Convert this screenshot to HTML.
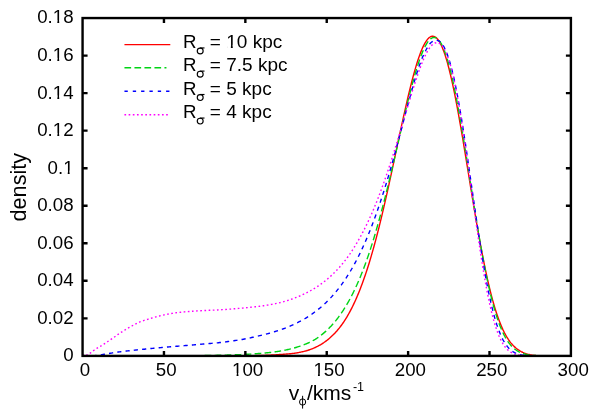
<!DOCTYPE html>
<html><head><meta charset="utf-8"><title>plot</title>
<style>html,body{margin:0;padding:0;background:#fff}svg{display:block;will-change:transform}text{font-family:"Liberation Sans",sans-serif;fill:#000}</style></head>
<body>
<svg width="598" height="419" viewBox="0 0 598 419">
<rect width="598" height="419" fill="#fff"/>
<clipPath id="c"><rect x="82.57" y="18.05" width="488.33" height="337.85"/></clipPath>
<g clip-path="url(#c)" fill="none" stroke-width="1.40" stroke-linejoin="round">
<path d="M237.21 355.82 L238.00 355.81 L238.80 355.81 L239.59 355.80 L240.39 355.80 L241.19 355.79 L241.98 355.78 L242.78 355.78 L243.57 355.77 L244.37 355.76 L245.16 355.75 L245.96 355.74 L246.75 355.74 L247.55 355.73 L248.35 355.72 L249.14 355.70 L249.94 355.69 L250.73 355.68 L251.53 355.67 L252.32 355.66 L253.12 355.64 L253.91 355.63 L254.71 355.61 L255.50 355.60 L256.30 355.58 L257.10 355.56 L257.89 355.55 L258.69 355.53 L259.48 355.51 L260.28 355.49 L261.07 355.46 L261.87 355.44 L262.66 355.42 L263.46 355.39 L264.26 355.37 L265.05 355.34 L265.85 355.31 L266.64 355.28 L267.44 355.25 L268.23 355.21 L269.03 355.18 L269.82 355.14 L270.62 355.10 L271.42 355.06 L272.21 355.02 L273.01 354.98 L273.80 354.93 L274.60 354.88 L275.39 354.83 L276.19 354.78 L276.98 354.73 L277.78 354.67 L278.58 354.61 L279.37 354.55 L280.17 354.50 L280.96 354.45 L281.76 354.39 L282.55 354.34 L283.35 354.28 L284.14 354.23 L284.94 354.17 L285.73 354.12 L286.53 354.05 L287.33 353.99 L288.12 353.92 L288.92 353.85 L289.71 353.78 L290.51 353.70 L291.30 353.61 L292.10 353.52 L292.89 353.42 L293.69 353.32 L294.49 353.21 L295.28 353.09 L296.08 352.97 L296.87 352.84 L297.67 352.71 L298.46 352.57 L299.26 352.42 L300.05 352.27 L300.85 352.11 L301.65 351.94 L302.44 351.76 L303.24 351.58 L304.03 351.39 L304.83 351.18 L305.62 350.97 L306.42 350.75 L307.21 350.51 L308.01 350.27 L308.81 350.01 L309.60 349.74 L310.40 349.46 L311.19 349.16 L311.99 348.85 L312.78 348.53 L313.58 348.20 L314.37 347.85 L315.17 347.49 L315.96 347.12 L316.76 346.73 L317.56 346.33 L318.35 345.91 L319.15 345.48 L319.94 345.03 L320.74 344.57 L321.53 344.08 L322.33 343.59 L323.12 343.07 L323.92 342.54 L324.72 341.98 L325.51 341.41 L326.31 340.82 L327.10 340.21 L327.90 339.58 L328.69 338.93 L329.49 338.26 L330.28 337.56 L331.08 336.85 L331.88 336.11 L332.67 335.35 L333.47 334.57 L334.26 333.76 L335.06 332.92 L335.85 332.06 L336.65 331.18 L337.44 330.26 L338.24 329.32 L339.04 328.34 L339.83 327.34 L340.63 326.30 L341.42 325.23 L342.22 324.13 L343.01 323.00 L343.81 321.83 L344.60 320.62 L345.40 319.38 L346.19 318.10 L346.99 316.79 L347.79 315.43 L348.58 314.03 L349.38 312.60 L350.17 311.13 L350.97 309.62 L351.76 308.06 L352.56 306.47 L353.35 304.84 L354.15 303.16 L354.95 301.45 L355.74 299.68 L356.54 297.88 L357.33 296.03 L358.13 294.14 L358.92 292.20 L359.72 290.22 L360.51 288.19 L361.31 286.11 L362.11 283.99 L362.90 281.82 L363.70 279.60 L364.49 277.33 L365.29 275.02 L366.08 272.65 L366.88 270.23 L367.67 267.76 L368.47 265.24 L369.26 262.67 L370.06 260.05 L370.86 257.38 L371.65 254.66 L372.45 251.90 L373.24 249.08 L374.04 246.22 L374.83 243.30 L375.63 240.34 L376.42 237.34 L377.22 234.29 L378.02 231.19 L378.81 228.05 L379.61 224.86 L380.40 221.64 L381.20 218.37 L381.99 215.06 L382.79 211.71 L383.58 208.33 L384.38 204.91 L385.18 201.45 L385.97 197.95 L386.77 194.41 L387.56 190.85 L388.36 187.25 L389.15 183.62 L389.95 179.97 L390.74 176.30 L391.54 172.60 L392.34 168.89 L393.13 165.17 L393.93 161.43 L394.72 157.69 L395.52 153.94 L396.31 150.19 L397.11 146.45 L397.90 142.71 L398.70 138.98 L399.49 135.26 L400.29 131.56 L401.09 127.88 L401.88 124.22 L402.68 120.58 L403.47 116.96 L404.27 113.37 L405.06 109.82 L405.86 106.30 L406.65 102.82 L407.45 99.39 L408.25 96.00 L409.04 92.67 L409.84 89.39 L410.63 86.17 L411.43 83.02 L412.22 79.93 L413.02 76.91 L413.81 73.97 L414.61 71.11 L415.41 68.33 L416.20 65.64 L417.00 63.05 L417.79 60.55 L418.59 58.16 L419.38 55.87 L420.18 53.69 L420.97 51.62 L421.77 49.67 L422.57 47.84 L423.36 46.14 L424.16 44.56 L424.95 43.10 L425.75 41.78 L426.54 40.60 L427.34 39.55 L428.13 38.64 L428.93 37.87 L429.72 37.25 L430.52 36.77 L431.32 36.44 L432.11 36.26 L432.91 36.23 L433.70 36.35 L434.50 36.62 L435.29 37.05 L436.09 37.63 L436.88 38.36 L437.68 39.26 L438.48 40.30 L439.27 41.51 L440.07 42.88 L440.86 44.40 L441.66 46.08 L442.45 47.91 L443.25 49.91 L444.04 52.05 L444.84 54.35 L445.64 56.80 L446.43 59.40 L447.23 62.14 L448.02 65.03 L448.82 68.05 L449.61 71.21 L450.41 74.49 L451.20 77.90 L452.00 81.43 L452.80 85.09 L453.59 88.85 L454.39 92.73 L455.18 96.71 L455.98 100.80 L456.77 104.98 L457.57 109.25 L458.36 113.61 L459.16 118.05 L459.95 122.57 L460.75 127.15 L461.55 131.80 L462.34 136.50 L463.14 141.24 L463.93 146.03 L464.73 150.85 L465.52 155.70 L466.32 160.57 L467.11 165.46 L467.91 170.36 L468.71 175.26 L469.50 180.16 L470.30 185.06 L471.09 189.94 L471.89 194.80 L472.68 199.63 L473.48 204.44 L474.27 209.21 L475.07 213.94 L475.87 218.62 L476.66 223.25 L477.46 227.83 L478.25 232.35 L479.05 236.80 L479.84 241.19 L480.64 245.51 L481.43 249.75 L482.23 253.91 L483.03 257.99 L483.82 261.99 L484.62 265.90 L485.41 269.72 L486.21 273.46 L487.00 277.09 L487.80 280.64 L488.59 284.09 L489.39 287.44 L490.18 290.70 L490.98 293.85 L491.78 296.91 L492.57 299.87 L493.37 302.73 L494.16 305.49 L494.96 308.16 L495.75 310.72 L496.55 313.19 L497.34 315.56 L498.14 317.84 L498.94 320.03 L499.73 322.12 L500.53 324.13 L501.32 326.04 L502.12 327.87 L502.91 329.61 L503.71 331.27 L504.50 332.85 L505.30 334.35 L506.10 335.78 L506.89 337.13 L507.69 338.41 L508.48 339.62 L509.28 340.76 L510.07 341.84 L510.87 342.86 L511.66 343.82 L512.46 344.72 L513.26 345.57 L514.05 346.37 L514.85 347.12 L515.64 347.83 L516.44 348.48 L517.23 349.10 L518.03 349.67 L518.82 350.21 L519.62 350.71 L520.41 351.17 L521.21 351.61 L522.01 352.00 L522.80 352.38 L523.60 352.72 L524.39 353.05 L525.19 353.35 L525.98 353.63 L526.78 353.89 L527.57 354.13 L528.37 354.35 L529.17 354.55 L529.96 354.73 L530.76 354.89 L531.55 355.03 L532.35 355.15 L533.14 355.27 L533.94 355.37 L534.73 355.46 L535.53 355.54 L536.33 355.61 L537.12 355.68 L537.92 355.73 L538.71 355.78 L539.51 355.83 L540.30 355.87 L541.10 355.90 L541.89 355.90 L542.69 355.90 L543.48 355.90 L544.28 355.90 L545.08 355.90 L545.87 355.90 L546.67 355.90 L547.46 355.90 L548.26 355.90 L549.05 355.90 L549.85 355.90 L550.64 355.90 L551.44 355.90 L552.24 355.90 L553.03 355.90 L553.83 355.90 L554.62 355.90" stroke="#ff0000"/>
<path d="M204.65 355.52 L205.53 355.51 L206.41 355.50 L207.28 355.49 L208.16 355.47 L209.04 355.46 L209.92 355.45 L210.79 355.43 L211.67 355.42 L212.55 355.40 L213.42 355.39 L214.30 355.37 L215.18 355.35 L216.06 355.34 L216.93 355.32 L217.81 355.30 L218.69 355.28 L219.56 355.26 L220.44 355.24 L221.32 355.22 L222.19 355.20 L223.07 355.18 L223.95 355.16 L224.83 355.14 L225.70 355.11 L226.58 355.09 L227.46 355.06 L228.33 355.04 L229.21 355.01 L230.09 354.98 L230.97 354.96 L231.84 354.93 L232.72 354.90 L233.60 354.87 L234.47 354.84 L235.35 354.80 L236.23 354.77 L237.11 354.73 L237.98 354.70 L238.86 354.66 L239.74 354.62 L240.61 354.59 L241.49 354.54 L242.37 354.50 L243.25 354.46 L244.12 354.42 L245.00 354.37 L245.88 354.32 L246.75 354.28 L247.63 354.23 L248.51 354.18 L249.39 354.13 L250.26 354.08 L251.14 354.03 L252.02 353.97 L252.89 353.92 L253.77 353.86 L254.65 353.81 L255.53 353.75 L256.40 353.69 L257.28 353.63 L258.16 353.56 L259.03 353.50 L259.91 353.43 L260.79 353.36 L261.67 353.29 L262.54 353.22 L263.42 353.14 L264.30 353.06 L265.17 352.98 L266.05 352.90 L266.93 352.81 L267.80 352.72 L268.68 352.63 L269.56 352.53 L270.44 352.43 L271.31 352.33 L272.19 352.22 L273.07 352.11 L273.94 352.00 L274.82 351.88 L275.70 351.76 L276.58 351.63 L277.45 351.50 L278.33 351.36 L279.21 351.22 L280.08 351.07 L280.96 350.92 L281.84 350.77 L282.72 350.61 L283.59 350.44 L284.47 350.27 L285.35 350.09 L286.22 349.91 L287.10 349.72 L287.98 349.53 L288.86 349.33 L289.73 349.12 L290.61 348.91 L291.49 348.69 L292.36 348.46 L293.24 348.22 L294.12 347.98 L295.00 347.73 L295.87 347.47 L296.75 347.21 L297.63 346.93 L298.50 346.65 L299.38 346.36 L300.26 346.06 L301.14 345.75 L302.01 345.44 L302.89 345.12 L303.77 344.79 L304.64 344.45 L305.52 344.10 L306.40 343.74 L307.28 343.37 L308.15 342.99 L309.03 342.59 L309.91 342.18 L310.78 341.75 L311.66 341.31 L312.54 340.84 L313.42 340.36 L314.29 339.86 L315.17 339.34 L316.05 338.79 L316.92 338.22 L317.80 337.63 L318.68 337.02 L319.55 336.39 L320.43 335.74 L321.31 335.06 L322.19 334.36 L323.06 333.64 L323.94 332.90 L324.82 332.14 L325.69 331.36 L326.57 330.55 L327.45 329.73 L328.33 328.88 L329.20 328.01 L330.08 327.11 L330.96 326.20 L331.83 325.25 L332.71 324.28 L333.59 323.28 L334.47 322.25 L335.34 321.19 L336.22 320.10 L337.10 318.98 L337.97 317.84 L338.85 316.66 L339.73 315.45 L340.61 314.21 L341.48 312.94 L342.36 311.63 L343.24 310.29 L344.11 308.93 L344.99 307.52 L345.87 306.08 L346.75 304.61 L347.62 303.11 L348.50 301.57 L349.38 299.99 L350.25 298.38 L351.13 296.73 L352.01 295.04 L352.89 293.31 L353.76 291.54 L354.64 289.72 L355.52 287.86 L356.39 285.96 L357.27 284.02 L358.15 282.02 L359.03 279.98 L359.90 277.90 L360.78 275.77 L361.66 273.59 L362.53 271.36 L363.41 269.09 L364.29 266.77 L365.16 264.40 L366.04 261.98 L366.92 259.51 L367.80 256.99 L368.67 254.42 L369.55 251.80 L370.43 249.13 L371.30 246.41 L372.18 243.64 L373.06 240.83 L373.94 237.96 L374.81 235.04 L375.69 232.08 L376.57 229.07 L377.44 226.01 L378.32 222.90 L379.20 219.74 L380.08 216.54 L380.95 213.30 L381.83 210.01 L382.71 206.68 L383.58 203.30 L384.46 199.89 L385.34 196.43 L386.22 192.94 L387.09 189.41 L387.97 185.85 L388.85 182.26 L389.72 178.63 L390.60 174.98 L391.48 171.30 L392.36 167.60 L393.23 163.87 L394.11 160.13 L394.99 156.37 L395.86 152.59 L396.74 148.81 L397.62 145.02 L398.50 141.22 L399.37 137.43 L400.25 133.64 L401.13 129.85 L402.00 126.07 L402.88 122.31 L403.76 118.57 L404.64 114.85 L405.51 111.16 L406.39 107.50 L407.27 103.88 L408.14 100.30 L409.02 96.76 L409.90 93.28 L410.78 89.85 L411.65 86.49 L412.53 83.19 L413.41 79.97 L414.28 76.83 L415.16 73.77 L416.04 70.79 L416.91 67.91 L417.79 65.13 L418.67 62.45 L419.55 59.88 L420.42 57.42 L421.30 55.08 L422.18 52.87 L423.05 50.78 L423.93 48.83 L424.81 47.02 L425.69 45.35 L426.56 43.83 L427.44 42.46 L428.32 41.25 L429.19 40.20 L430.07 39.31 L430.95 38.60 L431.83 38.05 L432.70 37.68 L433.58 37.49 L434.46 37.48 L435.33 37.66 L436.21 38.02 L437.09 38.56 L437.97 39.30 L438.84 40.23 L439.72 41.35 L440.60 42.67 L441.47 44.18 L442.35 45.88 L443.23 47.78 L444.11 49.87 L444.98 52.16 L445.86 54.63 L446.74 57.30 L447.61 60.15 L448.49 63.19 L449.37 66.40 L450.25 69.80 L451.12 73.36 L452.00 77.10 L452.88 81.00 L453.75 85.05 L454.63 89.27 L455.51 93.62 L456.39 98.12 L457.26 102.76 L458.14 107.51 L459.02 112.39 L459.89 117.37 L460.77 122.45 L461.65 127.63 L462.53 132.89 L463.40 138.22 L464.28 143.62 L465.16 149.08 L466.03 154.58 L466.91 160.13 L467.79 165.70 L468.66 171.29 L469.54 176.90 L470.42 182.51 L471.30 188.11 L472.17 193.70 L473.05 199.26 L473.93 204.79 L474.80 210.28 L475.68 215.72 L476.56 221.11 L477.44 226.43 L478.31 231.68 L479.19 236.85 L480.07 241.93 L480.94 246.93 L481.82 251.82 L482.70 256.62 L483.58 261.31 L484.45 265.88 L485.33 270.34 L486.21 274.68 L487.08 278.90 L487.96 282.99 L488.84 286.95 L489.72 290.78 L490.59 294.48 L491.47 298.04 L492.35 301.48 L493.22 304.78 L494.10 307.94 L494.98 310.97 L495.86 313.87 L496.73 316.64 L497.61 319.28 L498.49 321.80 L499.36 324.18 L500.24 326.45 L501.12 328.59 L502.00 330.62 L502.87 332.53 L503.75 334.33 L504.63 336.03 L505.50 337.62 L506.38 339.11 L507.26 340.50 L508.14 341.81 L509.01 343.02 L509.89 344.15 L510.77 345.20 L511.64 346.17 L512.52 347.07 L513.40 347.90 L514.27 348.67 L515.15 349.37 L516.03 350.02 L516.91 350.61 L517.78 351.15 L518.66 351.64 L519.54 352.09 L520.41 352.50 L521.29 352.88 L522.17 353.21 L523.05 353.51 L523.92 353.79 L524.80 354.03 L525.68 354.25 L526.55 354.45 L527.43 354.63 L528.31 354.79 L529.19 354.93 L530.06 355.05 L530.94 355.16 L531.82 355.26 L532.69 355.34 L533.57 355.42 L534.45 355.49 L535.33 355.54 L536.20 355.59 L537.08 355.64 L537.96 355.68 L538.83 355.71 L539.71 355.74 L540.59 355.76 L541.47 355.78 L542.34 355.80 L543.22 355.82 L544.10 355.83 L544.97 355.84 L545.85 355.85 L546.73 355.86 L547.61 355.87 L548.48 355.87 L549.36 355.88 L550.24 355.88 L551.11 355.88 L551.99 355.89 L552.87 355.89 L553.75 355.89 L554.62 355.89" stroke="#00d414" stroke-dasharray="6.67 3.33"/>
<path d="M84.20 355.90 L85.38 355.90 L86.56 355.90 L87.73 355.90 L88.91 355.90 L90.09 355.90 L91.27 355.90 L92.45 355.90 L93.63 355.81 L94.81 355.70 L95.99 355.57 L97.17 355.41 L98.35 355.24 L99.52 355.06 L100.70 354.88 L101.88 354.69 L103.06 354.49 L104.24 354.30 L105.42 354.10 L106.60 353.90 L107.78 353.70 L108.96 353.50 L110.14 353.30 L111.31 353.10 L112.49 352.91 L113.67 352.72 L114.85 352.53 L116.03 352.35 L117.21 352.18 L118.39 352.01 L119.57 351.86 L120.75 351.71 L121.93 351.57 L123.11 351.42 L124.28 351.29 L125.46 351.15 L126.64 351.02 L127.82 350.89 L129.00 350.76 L130.18 350.63 L131.36 350.50 L132.54 350.38 L133.72 350.26 L134.90 350.14 L136.07 350.02 L137.25 349.89 L138.43 349.77 L139.61 349.66 L140.79 349.54 L141.97 349.42 L143.15 349.30 L144.33 349.18 L145.51 349.06 L146.69 348.94 L147.86 348.82 L149.04 348.70 L150.22 348.58 L151.40 348.47 L152.58 348.35 L153.76 348.24 L154.94 348.13 L156.12 348.02 L157.30 347.91 L158.48 347.80 L159.65 347.70 L160.83 347.59 L162.01 347.49 L163.19 347.39 L164.37 347.29 L165.55 347.18 L166.73 347.08 L167.91 346.98 L169.09 346.88 L170.27 346.78 L171.44 346.68 L172.62 346.58 L173.80 346.48 L174.98 346.38 L176.16 346.28 L177.34 346.19 L178.52 346.09 L179.70 346.00 L180.88 345.91 L182.06 345.82 L183.23 345.73 L184.41 345.63 L185.59 345.54 L186.77 345.45 L187.95 345.35 L189.13 345.25 L190.31 345.16 L191.49 345.06 L192.67 344.96 L193.85 344.86 L195.02 344.76 L196.20 344.65 L197.38 344.55 L198.56 344.44 L199.74 344.34 L200.92 344.23 L202.10 344.13 L203.28 344.03 L204.46 343.94 L205.64 343.84 L206.81 343.75 L207.99 343.65 L209.17 343.56 L210.35 343.46 L211.53 343.36 L212.71 343.26 L213.89 343.16 L215.07 343.05 L216.25 342.94 L217.43 342.83 L218.60 342.70 L219.78 342.57 L220.96 342.44 L222.14 342.30 L223.32 342.15 L224.50 342.01 L225.68 341.86 L226.86 341.70 L228.04 341.55 L229.22 341.39 L230.39 341.23 L231.57 341.07 L232.75 340.90 L233.93 340.73 L235.11 340.56 L236.29 340.38 L237.47 340.20 L238.65 340.02 L239.83 339.83 L241.01 339.64 L242.18 339.44 L243.36 339.23 L244.54 339.01 L245.72 338.78 L246.90 338.55 L248.08 338.31 L249.26 338.06 L250.44 337.81 L251.62 337.55 L252.80 337.29 L253.98 337.02 L255.15 336.75 L256.33 336.48 L257.51 336.21 L258.69 335.94 L259.87 335.67 L261.05 335.39 L262.23 335.11 L263.41 334.82 L264.59 334.53 L265.77 334.23 L266.94 333.92 L268.12 333.60 L269.30 333.28 L270.48 332.95 L271.66 332.61 L272.84 332.26 L274.02 331.91 L275.20 331.54 L276.38 331.17 L277.56 330.79 L278.73 330.39 L279.91 329.99 L281.09 329.58 L282.27 329.16 L283.45 328.73 L284.63 328.28 L285.81 327.83 L286.99 327.36 L288.17 326.89 L289.35 326.40 L290.52 325.89 L291.70 325.38 L292.88 324.85 L294.06 324.31 L295.24 323.75 L296.42 323.18 L297.60 322.59 L298.78 321.99 L299.96 321.37 L301.14 320.74 L302.31 320.09 L303.49 319.42 L304.67 318.73 L305.85 318.03 L307.03 317.30 L308.21 316.56 L309.39 315.80 L310.57 315.01 L311.75 314.21 L312.93 313.38 L314.10 312.53 L315.28 311.66 L316.46 310.76 L317.64 309.84 L318.82 308.90 L320.00 307.92 L321.18 306.93 L322.36 305.90 L323.54 304.84 L324.72 303.76 L325.89 302.65 L327.07 301.50 L328.25 300.33 L329.43 299.12 L330.61 297.88 L331.79 296.60 L332.97 295.29 L334.15 293.95 L335.33 292.56 L336.51 291.14 L337.68 289.68 L338.86 288.18 L340.04 286.64 L341.22 285.06 L342.40 283.43 L343.58 281.76 L344.76 280.04 L345.94 278.28 L347.12 276.47 L348.30 274.62 L349.47 272.71 L350.65 270.75 L351.83 268.74 L353.01 266.68 L354.19 264.56 L355.37 262.39 L356.55 260.17 L357.73 257.88 L358.91 255.54 L360.09 253.14 L361.26 250.68 L362.44 248.16 L363.62 245.57 L364.80 242.93 L365.98 240.22 L367.16 237.45 L368.34 234.61 L369.52 231.71 L370.70 228.74 L371.88 225.71 L373.05 222.61 L374.23 219.44 L375.41 216.21 L376.59 212.91 L377.77 209.54 L378.95 206.11 L380.13 202.61 L381.31 199.05 L382.49 195.43 L383.67 191.74 L384.85 187.99 L386.02 184.18 L387.20 180.31 L388.38 176.37 L389.56 172.36 L390.74 168.27 L391.92 164.12 L393.10 159.91 L394.28 155.65 L395.46 151.33 L396.64 146.97 L397.81 142.58 L398.99 138.16 L400.17 133.71 L401.35 129.26 L402.53 124.79 L403.71 120.33 L404.89 115.88 L406.07 111.45 L407.25 107.05 L408.43 102.70 L409.60 98.37 L410.78 94.08 L411.96 89.85 L413.14 85.69 L414.32 81.61 L415.50 77.64 L416.68 73.78 L417.86 70.07 L419.04 66.50 L420.22 63.15 L421.39 60.01 L422.57 57.11 L423.75 54.50 L424.93 52.06 L426.11 49.72 L427.29 47.57 L428.47 45.65 L429.65 44.02 L430.83 42.75 L432.01 41.82 L433.18 41.15 L434.36 40.72 L435.54 40.47 L436.72 40.37 L437.90 40.55 L439.08 41.05 L440.26 41.88 L441.44 43.06 L442.62 44.61 L443.80 46.53 L444.97 48.82 L446.15 51.49 L447.33 54.52 L448.51 57.93 L449.69 61.71 L450.87 65.87 L452.05 70.39 L453.23 75.27 L454.41 80.50 L455.59 86.08 L456.76 92.00 L457.94 98.23 L459.12 104.75 L460.30 111.55 L461.48 118.60 L462.66 125.89 L463.84 133.38 L465.02 141.06 L466.20 148.91 L467.38 156.88 L468.55 164.97 L469.73 173.13 L470.91 181.34 L472.09 189.57 L473.27 197.80 L474.45 205.98 L475.63 214.10 L476.81 222.13 L477.99 230.04 L479.17 237.81 L480.34 245.40 L481.52 252.80 L482.70 259.99 L483.88 266.95 L485.06 273.65 L486.24 280.09 L487.42 286.25 L488.60 292.12 L489.78 297.70 L490.96 302.97 L492.13 307.94 L493.31 312.60 L494.49 316.95 L495.67 321.00 L496.85 324.75 L498.03 328.21 L499.21 331.38 L500.39 334.28 L501.57 336.92 L502.75 339.32 L503.92 341.47 L505.10 343.40 L506.28 345.13 L507.46 346.66 L508.64 348.01 L509.82 349.20 L511.00 350.24 L512.18 351.14 L513.36 351.92 L514.54 352.59 L515.72 353.17 L516.89 353.65 L518.07 354.06 L519.25 354.41 L520.43 354.70 L521.61 354.93 L522.79 355.13 L523.97 355.29 L525.15 355.42 L526.33 355.53 L527.51 355.61 L528.68 355.68 L529.86 355.73 L531.04 355.77 L532.22 355.80 L533.40 355.83 L534.58 355.85 L535.76 355.86 L536.94 355.87 L538.12 355.88 L539.30 355.89 L540.47 355.89 L541.65 355.89 L542.83 355.89 L544.01 355.90 L545.19 355.90 L546.37 355.90 L547.55 355.90 L548.73 355.90 L549.91 355.90 L551.09 355.90 L552.26 355.90 L553.44 355.90 L554.62 355.90" stroke="#0000ff" stroke-dasharray="4.2 4.13"/>
<path d="M82.57 355.90 L83.75 355.04 L84.94 355.79 L86.12 355.51 L87.30 354.81 L88.49 354.15 L89.67 353.47 L90.85 352.71 L92.03 351.83 L93.22 350.89 L94.40 350.01 L95.58 349.18 L96.77 348.41 L97.95 347.68 L99.13 346.98 L100.32 346.31 L101.50 345.63 L102.68 344.90 L103.87 344.14 L105.05 343.35 L106.23 342.55 L107.41 341.75 L108.60 340.95 L109.78 340.18 L110.96 339.43 L112.15 338.64 L113.33 337.82 L114.51 336.96 L115.70 336.10 L116.88 335.23 L118.06 334.39 L119.25 333.57 L120.43 332.79 L121.61 332.04 L122.80 331.29 L123.98 330.55 L125.16 329.82 L126.34 329.11 L127.53 328.41 L128.71 327.73 L129.89 327.07 L131.08 326.41 L132.26 325.75 L133.44 325.09 L134.63 324.45 L135.81 323.83 L136.99 323.24 L138.18 322.69 L139.36 322.18 L140.54 321.71 L141.72 321.26 L142.91 320.84 L144.09 320.43 L145.27 320.05 L146.46 319.67 L147.64 319.31 L148.82 318.95 L150.01 318.60 L151.19 318.25 L152.37 317.90 L153.56 317.56 L154.74 317.22 L155.92 316.89 L157.10 316.57 L158.29 316.26 L159.47 315.96 L160.65 315.68 L161.84 315.41 L163.02 315.14 L164.20 314.88 L165.39 314.62 L166.57 314.38 L167.75 314.14 L168.94 313.92 L170.12 313.71 L171.30 313.51 L172.48 313.32 L173.67 313.14 L174.85 312.96 L176.03 312.79 L177.22 312.63 L178.40 312.48 L179.58 312.34 L180.77 312.22 L181.95 312.10 L183.13 311.99 L184.32 311.89 L185.50 311.79 L186.68 311.70 L187.86 311.61 L189.05 311.52 L190.23 311.43 L191.41 311.33 L192.60 311.23 L193.78 311.14 L194.96 311.04 L196.15 310.95 L197.33 310.86 L198.51 310.79 L199.70 310.73 L200.88 310.68 L202.06 310.62 L203.25 310.57 L204.43 310.52 L205.61 310.47 L206.79 310.42 L207.98 310.37 L209.16 310.32 L210.34 310.27 L211.53 310.21 L212.71 310.16 L213.89 310.11 L215.08 310.05 L216.26 309.99 L217.44 309.93 L218.63 309.87 L219.81 309.80 L220.99 309.73 L222.17 309.66 L223.36 309.59 L224.54 309.51 L225.72 309.43 L226.91 309.35 L228.09 309.27 L229.27 309.18 L230.46 309.09 L231.64 309.00 L232.82 308.91 L234.01 308.81 L235.19 308.71 L236.37 308.61 L237.55 308.51 L238.74 308.40 L239.92 308.30 L241.10 308.19 L242.29 308.08 L243.47 307.97 L244.65 307.86 L245.84 307.75 L247.02 307.64 L248.20 307.53 L249.39 307.41 L250.57 307.29 L251.75 307.17 L252.93 307.05 L254.12 306.92 L255.30 306.79 L256.48 306.65 L257.67 306.51 L258.85 306.36 L260.03 306.20 L261.22 306.04 L262.40 305.87 L263.58 305.70 L264.77 305.53 L265.95 305.35 L267.13 305.16 L268.31 304.97 L269.50 304.77 L270.68 304.57 L271.86 304.35 L273.05 304.13 L274.23 303.90 L275.41 303.66 L276.60 303.41 L277.78 303.14 L278.96 302.87 L280.15 302.58 L281.33 302.28 L282.51 301.97 L283.70 301.64 L284.88 301.31 L286.06 300.96 L287.24 300.60 L288.43 300.22 L289.61 299.84 L290.79 299.44 L291.98 299.03 L293.16 298.60 L294.34 298.16 L295.53 297.71 L296.71 297.25 L297.89 296.77 L299.08 296.27 L300.26 295.77 L301.44 295.24 L302.62 294.71 L303.81 294.16 L304.99 293.59 L306.17 293.01 L307.36 292.41 L308.54 291.79 L309.72 291.15 L310.91 290.50 L312.09 289.83 L313.27 289.13 L314.46 288.42 L315.64 287.68 L316.82 286.92 L318.00 286.14 L319.19 285.34 L320.37 284.51 L321.55 283.66 L322.74 282.78 L323.92 281.88 L325.10 280.95 L326.29 279.99 L327.47 279.01 L328.65 278.00 L329.84 276.96 L331.02 275.89 L332.20 274.78 L333.38 273.64 L334.57 272.47 L335.75 271.27 L336.93 270.03 L338.12 268.75 L339.30 267.45 L340.48 266.11 L341.67 264.73 L342.85 263.32 L344.03 261.86 L345.22 260.36 L346.40 258.81 L347.58 257.21 L348.76 255.55 L349.95 253.85 L351.13 252.08 L352.31 250.27 L353.50 248.41 L354.68 246.51 L355.86 244.57 L357.05 242.59 L358.23 240.56 L359.41 238.48 L360.60 236.35 L361.78 234.16 L362.96 231.93 L364.15 229.64 L365.33 227.29 L366.51 224.89 L367.69 222.43 L368.88 219.91 L370.06 217.32 L371.24 214.68 L372.43 211.97 L373.61 209.19 L374.79 206.35 L375.98 203.44 L377.16 200.48 L378.34 197.45 L379.53 194.36 L380.71 191.21 L381.89 188.00 L383.07 184.73 L384.26 181.40 L385.44 178.02 L386.62 174.58 L387.81 171.08 L388.99 167.53 L390.17 163.93 L391.36 160.28 L392.54 156.58 L393.72 152.84 L394.91 149.05 L396.09 145.23 L397.27 141.37 L398.45 137.47 L399.64 133.56 L400.82 129.61 L402.00 125.66 L403.19 121.68 L404.37 117.71 L405.55 113.73 L406.74 109.76 L407.92 105.80 L409.10 101.86 L410.29 97.96 L411.47 94.09 L412.65 90.27 L413.83 86.50 L415.02 82.81 L416.20 79.19 L417.38 75.66 L418.57 72.23 L419.75 68.91 L420.93 65.72 L422.12 62.67 L423.30 59.80 L424.48 57.12 L425.67 54.64 L426.85 52.36 L428.03 50.30 L429.21 48.47 L430.40 46.86 L431.58 45.51 L432.76 44.40 L433.95 43.57 L435.13 43.00 L436.31 42.72 L437.50 42.72 L438.68 43.03 L439.86 43.64 L441.05 44.59 L442.23 45.88 L443.41 47.53 L444.60 49.55 L445.78 51.94 L446.96 54.72 L448.14 57.90 L449.33 61.48 L450.51 65.46 L451.69 69.85 L452.88 74.65 L454.06 79.84 L455.24 85.41 L456.43 91.34 L457.61 97.61 L458.79 104.20 L459.98 111.10 L461.16 118.29 L462.34 125.75 L463.52 133.45 L464.71 141.36 L465.89 149.46 L467.07 157.72 L468.26 166.11 L469.44 174.60 L470.62 183.15 L471.81 191.73 L472.99 200.31 L474.17 208.85 L475.36 217.33 L476.54 225.70 L477.72 233.94 L478.90 242.02 L480.09 249.91 L481.27 257.58 L482.45 265.01 L483.64 272.17 L484.82 279.04 L486.00 285.62 L487.19 291.88 L488.37 297.81 L489.55 303.40 L490.74 308.66 L491.92 313.56 L493.10 318.13 L494.28 322.35 L495.47 326.25 L496.65 329.81 L497.83 333.06 L499.02 336.00 L500.20 338.65 L501.38 341.03 L502.57 343.15 L503.75 345.03 L504.93 346.69 L506.12 348.14 L507.30 349.40 L508.48 350.49 L509.66 351.42 L510.85 352.22 L512.03 352.89 L513.21 353.46 L514.40 353.94 L515.58 354.33 L516.76 354.66 L517.95 354.92 L519.13 355.13 L520.31 355.31 L521.50 355.44 L522.68 355.55 L523.86 355.64 L525.05 355.70 L526.23 355.75 L527.41 355.79 L528.59 355.82 L529.78 355.84 L530.96 355.86 L532.14 355.87 L533.33 355.88 L534.51 355.89 L535.69 355.89 L536.88 355.89 L538.06 355.90 L539.24 355.90 L540.43 355.90 L541.61 355.90 L542.79 355.90 L543.97 355.90 L545.16 355.90 L546.34 355.90 L547.52 355.90 L548.71 355.90 L549.89 355.90 L551.07 355.90 L552.26 355.90 L553.44 355.90 L554.62 355.90" stroke="#ff00ff" stroke-dasharray="1.67 2.5"/>
</g>
<g fill="none" stroke-width="1.40">
<path d="M124.45 44.65 H170.30" stroke="#ff0000"/>
<path d="M124.45 67.80 H170.30" stroke="#00d414" stroke-dasharray="6.67 3.33 6.67 3.33 6.67 3.33 6.67 3.33 2 20"/>
<path d="M124.45 91.20 H170.30" stroke="#0000ff" stroke-dasharray="3.33 5"/>
<path d="M124.45 114.75 H170.30" stroke="#ff00ff" stroke-dasharray="1.67 2.5"/>
</g>
<g stroke="#000" stroke-width="2.40" fill="none">
<rect x="82.57" y="18.05" width="488.33" height="337.85"/>
</g><g stroke="#000" stroke-width="2.4" fill="none">
<path d="M163.96 355.90V350.90 M163.96 18.05V23.05 M245.35 355.90V350.90 M245.35 18.05V23.05 M326.74 355.90V350.90 M326.74 18.05V23.05 M408.12 355.90V350.90 M408.12 18.05V23.05 M489.51 355.90V350.90 M489.51 18.05V23.05 M82.57 318.36H87.57 M570.90 318.36H565.90 M82.57 280.82H87.57 M570.90 280.82H565.90 M82.57 243.28H87.57 M570.90 243.28H565.90 M82.57 205.74H87.57 M570.90 205.74H565.90 M82.57 168.21H87.57 M570.90 168.21H565.90 M82.57 130.67H87.57 M570.90 130.67H565.90 M82.57 93.13H87.57 M570.90 93.13H565.90 M82.57 55.59H87.57 M570.90 55.59H565.90 "/>
</g>
<g font-size="18.70">
<text x="84.87" y="376.2" text-anchor="middle">0</text>
<text x="166.26" y="376.2" text-anchor="middle">50</text>
<text x="247.65" y="376.2" text-anchor="middle">100</text>
<text x="329.04" y="376.2" text-anchor="middle">150</text>
<text x="410.42" y="376.2" text-anchor="middle">200</text>
<text x="491.81" y="376.2" text-anchor="middle">250</text>
<text x="573.20" y="376.2" text-anchor="middle">300</text>
<text x="73.6" y="361.30" text-anchor="end">0</text>
<text x="73.6" y="323.76" text-anchor="end">0.02</text>
<text x="73.6" y="286.22" text-anchor="end">0.04</text>
<text x="73.6" y="248.68" text-anchor="end">0.06</text>
<text x="73.6" y="211.14" text-anchor="end">0.08</text>
<text x="73.6" y="173.61" text-anchor="end">0.1</text>
<text x="73.6" y="136.07" text-anchor="end">0.12</text>
<text x="73.6" y="98.53" text-anchor="end">0.14</text>
<text x="73.6" y="60.99" text-anchor="end">0.16</text>
<text x="73.6" y="23.45" text-anchor="end">0.18</text>
<text x="182.9" y="48.05">R<tspan x="204.6" font-size="19"> = 10 kpc</tspan></text>
<g stroke="#000" fill="none" stroke-width="1.15"><ellipse cx="200.2" cy="51.00" rx="2.95" ry="2.9"/><path d="M199.8 47.95H204.5"/></g>
<text x="182.9" y="71.20">R<tspan x="204.6" font-size="19"> = 7.5 kpc</tspan></text>
<g stroke="#000" fill="none" stroke-width="1.15"><ellipse cx="200.2" cy="74.15" rx="2.95" ry="2.9"/><path d="M199.8 71.10H204.5"/></g>
<text x="182.9" y="94.60">R<tspan x="204.6" font-size="19"> = 5 kpc</tspan></text>
<g stroke="#000" fill="none" stroke-width="1.15"><ellipse cx="200.2" cy="97.55" rx="2.95" ry="2.9"/><path d="M199.8 94.50H204.5"/></g>
<text x="182.9" y="118.15">R<tspan x="204.6" font-size="19"> = 4 kpc</tspan></text>
<g stroke="#000" fill="none" stroke-width="1.15"><ellipse cx="200.2" cy="121.10" rx="2.95" ry="2.9"/><path d="M199.8 118.05H204.5"/></g>
</g>
<rect x="64.14" y="170.43" width="3.60" height="4.08" fill="#fff"/><rect x="69.61" y="170.43" width="4.07" height="4.08" fill="#fff"/><rect x="53.74" y="132.89" width="3.60" height="4.08" fill="#fff"/><rect x="59.21" y="132.89" width="4.07" height="4.08" fill="#fff"/><rect x="53.74" y="95.35" width="3.60" height="4.08" fill="#fff"/><rect x="59.21" y="95.35" width="4.07" height="4.08" fill="#fff"/><rect x="53.74" y="57.81" width="3.60" height="4.08" fill="#fff"/><rect x="59.21" y="57.81" width="4.07" height="4.08" fill="#fff"/><rect x="53.74" y="20.27" width="3.60" height="4.08" fill="#fff"/><rect x="59.21" y="20.27" width="4.07" height="4.08" fill="#fff"/><rect x="232.99" y="373.02" width="3.60" height="4.08" fill="#fff"/><rect x="238.45" y="373.02" width="4.07" height="4.08" fill="#fff"/><rect x="314.37" y="373.02" width="3.60" height="4.08" fill="#fff"/><rect x="319.84" y="373.02" width="4.07" height="4.08" fill="#fff"/><rect x="227.21" y="44.82" width="3.66" height="4.13" fill="#fff"/><rect x="232.76" y="44.82" width="4.14" height="4.13" fill="#fff"/><rect x="357.69" y="388.68" width="2.36" height="3.02" fill="#fff"/><rect x="361.38" y="388.68" width="2.68" height="3.02" fill="#fff"/>
<g font-size="21">
<text x="288.7" y="399.5">v<tspan x="307">/kms</tspan><tspan font-size="12.5" x="352.9" y="390.8">-1</tspan></text>
<g stroke="#000" fill="none" stroke-width="1.0"><ellipse cx="302.6" cy="402.0" rx="3.1" ry="3.15"/><path d="M302.6 395.8V408.6"/></g>
<text transform="translate(25.7 187.2) rotate(-90)" text-anchor="middle" font-size="21.6">density</text>
</g>
</svg></body></html>
